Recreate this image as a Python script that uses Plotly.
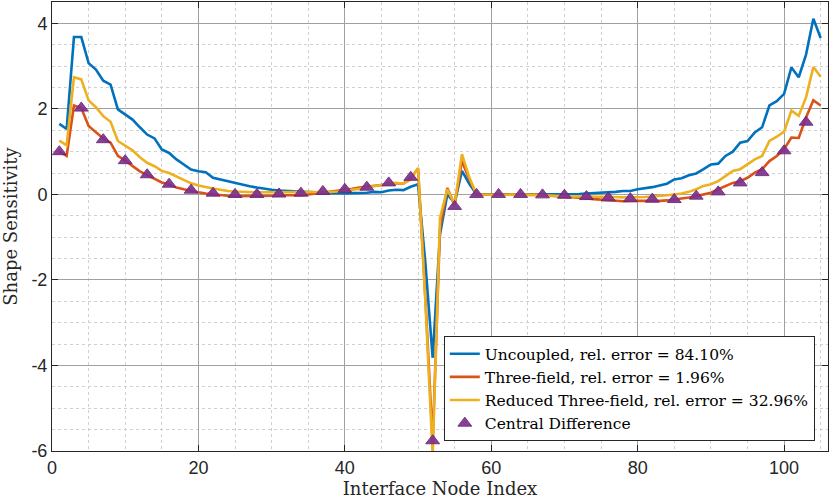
import numpy as np
import plotly.graph_objects as go

# Interface node indices 1..105
nodes = list(range(1, 106))

uncoupled = [
    1.65, 1.53, 3.68, 3.68, 3.07, 2.92, 2.66, 2.57, 1.99, 1.88,
    1.75, 1.57, 1.40, 1.31, 1.05, 0.97, 0.82, 0.70, 0.58, 0.54,
    0.52, 0.39, 0.35, 0.31, 0.26, 0.23, 0.19, 0.16, 0.13, 0.11,
    0.09, 0.08, 0.07, 0.06, 0.05, 0.04, 0.04, 0.03, 0.03, 0.02,
    0.03, 0.03, 0.04, 0.06, 0.05, 0.09, 0.11, 0.10, 0.18, 0.24,
    -1.60, -3.82, -0.93, 0.00, -0.20, 0.55, 0.25, 0.00, 0.00, 0.00,
    0.00, 0.00, 0.00, 0.00, 0.00, 0.00, 0.00, 0.00, 0.00, 0.00,
    0.00, 0.01, 0.02, 0.03, 0.035, 0.04, 0.06, 0.08, 0.08, 0.12,
    0.14, 0.17, 0.21, 0.25, 0.35, 0.38, 0.45, 0.49, 0.59, 0.70,
    0.72, 0.90, 1.00, 1.21, 1.25, 1.45, 1.57, 2.08, 2.18, 2.35,
    2.97, 2.74, 3.27, 4.11, 3.66,
]

three_field = [
    1.00, 0.90, 2.08, 2.02, 1.60, 1.46, 1.31, 1.21, 0.90, 0.79,
    0.66, 0.54, 0.45, 0.37, 0.28, 0.23, 0.16, 0.12, 0.08, 0.05,
    0.02, 0.00, -0.02, -0.03, -0.04, -0.04, -0.04, -0.04, -0.03, -0.03,
    -0.03, -0.02, -0.02, -0.02, 0.00, 0.02, 0.04, 0.06, 0.08, 0.10,
    0.13, 0.16, 0.18, 0.20, 0.23, 0.25, 0.26, 0.25, 0.39, 0.60,
    -2.40, -5.80, -0.80, 0.15, -0.25, 0.78, 0.35, 0.00, 0.00, 0.00,
    0.00, 0.00, 0.00, 0.00, 0.00, -0.01, -0.02, -0.03, -0.05, -0.06,
    -0.07, -0.08, -0.09, -0.11, -0.12, -0.14, -0.15, -0.16, -0.15, -0.15,
    -0.15, -0.16, -0.15, -0.14, -0.12, -0.09, -0.07, -0.04, 0.00, 0.04,
    0.12, 0.20, 0.27, 0.31, 0.39, 0.51, 0.59, 0.78, 0.90, 1.06,
    1.33, 1.32, 1.80, 2.20, 2.08,
]

reduced = [
    1.26, 1.15, 2.74, 2.69, 2.20, 2.04, 1.83, 1.70, 1.25, 1.15,
    1.03, 0.87, 0.74, 0.66, 0.55, 0.50, 0.42, 0.33, 0.26, 0.21,
    0.17, 0.14, 0.11, 0.08, 0.07, 0.06, 0.05, 0.05, 0.05, 0.05,
    0.05, 0.05, 0.05, 0.05, 0.05, 0.05, 0.05, 0.06, 0.07, 0.09,
    0.11, 0.13, 0.17, 0.19, 0.22, 0.25, 0.27, 0.25, 0.35, 0.62,
    -2.50, -6.10, -0.55, 0.12, -0.22, 0.94, 0.40, 0.00, 0.00, 0.00,
    0.00, 0.00, 0.00, 0.00, 0.00, -0.01, -0.02, -0.03, -0.03, -0.04,
    -0.05, -0.05, -0.05, -0.06, -0.06, -0.06, -0.06, -0.07, -0.07, -0.07,
    -0.06, -0.05, -0.04, -0.02, 0.00, 0.02, 0.06, 0.12, 0.20, 0.24,
    0.31, 0.43, 0.55, 0.59, 0.71, 0.82, 0.90, 1.25, 1.35, 1.47,
    1.96, 1.84, 2.27, 2.98, 2.75,
]

# Central difference check, every third node
cd_nodes = list(range(1, 106, 3))
central_diff = [
    1.00, 2.02, 1.28, 0.79, 0.46, 0.24, 0.10, 0.03, 0.00, 0.00,
    0.01, 0.03, 0.07, 0.12, 0.17, 0.27, 0.40, -5.76, -0.28, 0.00,
    0.00, 0.00, -0.01, -0.02, -0.05, -0.08, -0.10, -0.11, -0.12, -0.04,
    0.06, 0.27, 0.51, 1.02, 1.69,
]

labels = [
    "Uncoupled, rel. error = 84.10%",
    "Three-field, rel. error = 1.96%",
    "Reduced Three-field, rel. error = 32.96%",
    "Central Difference",
]
colors = ["#0072BD", "#D95319", "#EDB120", "#7E2F8E"]

# tick labels (plain hyphen minus like the MATLAB figure)
x_ticks = [0, 20, 40, 60, 80, 100]
x_ticktext = ["0", "20", "40", "60", "80", "100"]
y_ticks = [-6, -4, -2, 0, 2, 4]
y_ticktext = ["-6", "-4", "-2", "0", "2", "4"]

serif = "DejaVu Serif"
sans = "Liberation Sans"

fig = go.Figure()
for ys, name, c in zip([uncoupled, three_field, reduced], labels[:3], colors[:3]):
    fig.add_trace(go.Scatter(x=nodes, y=ys, mode="lines", name=name,
                             line=dict(color=c, width=2.6)))

fig.add_trace(go.Scatter(
    x=cd_nodes, y=central_diff, mode="markers", name=labels[3],
    marker=dict(symbol="triangle-up", size=12, color=colors[3],
                opacity=0.92, line=dict(color="#6a2478", width=1)),
))

axis_common = dict(
    showline=True, linecolor="#262626", linewidth=1, mirror="ticks",
    ticks="inside", ticklen=6, tickcolor="#262626",
    showgrid=True, gridcolor="#a0a0a0", gridwidth=1,
    zeroline=False,
    tickfont=dict(family=sans, size=18, color="#262626"),
)

fig.update_xaxes(
    range=[0, 106], tickmode="array", tickvals=x_ticks, ticktext=x_ticktext,
    minor=dict(dtick=5, tick0=0, showgrid=True, gridcolor="#d0d0d0",
               griddash="dot", ticks=""),
    title=dict(text="Interface Node Index", standoff=4,
               font=dict(family=serif, size=18, color="#262626")),
    **axis_common,
)
fig.update_yaxes(
    range=[-6, 4.5], tickmode="array", tickvals=y_ticks, ticktext=y_ticktext,
    minor=dict(dtick=0.5, tick0=0, showgrid=True, gridcolor="#d0d0d0",
               griddash="dot", ticks=""),
    title=dict(text="Shape Sensitivity", standoff=10,
               font=dict(family=serif, size=18, color="#262626")),
    **axis_common,
)

fig.update_layout(
    width=830, height=503,
    margin=dict(l=52, r=2, t=2, b=52, autoexpand=False),
    plot_bgcolor="white", paper_bgcolor="white",
    legend=dict(
        x=0.983, y=0.022, xanchor="right", yanchor="bottom",
        bgcolor="white", bordercolor="#262626", borderwidth=1,
        font=dict(family=serif, size=15.5, color="#000000"),
        tracegroupgap=0, itemwidth=30,
    ),
)

# drop the default page margin so the figure sits at the window corner
fig.write_html("out.html", config={"displayModeBar": False},
               post_script="document.body.style.margin='0';")
